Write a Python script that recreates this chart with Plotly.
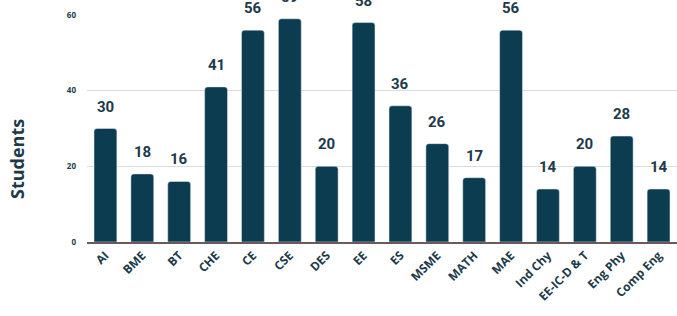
import plotly.graph_objects as go

categories = ["AI", "BME", "BT", "CHE", "CE", "CSE", "DES", "EE", "ES", "MSME",
              "MATH", "MAE", "Ind Chy", "EE-IC-D & T", "Eng Phy", "Comp Eng"]
students = [30, 18, 16, 41, 56, 59, 20, 58, 36, 26, 17, 56, 14, 20, 28, 14]
y_ticks = [0, 20, 40, 60]

bar_color = "#0c3c50"
text_color = "#1c3a4a"

fig = go.Figure()
fig.add_trace(go.Bar(
    x=categories, y=students,
    marker=dict(color=bar_color, cornerradius=3),
    hoverinfo="x+y",
))

for c, v in zip(categories, students):
    fig.add_annotation(x=c, y=v, text=str(v), showarrow=False,
                       yanchor="bottom", yshift=11,
                       font=dict(family="Roboto", size=15, color=text_color, weight="bold"))

# y-axis title (centred on the full, uncropped chart height)
fig.add_annotation(text="Students", textangle=-90, showarrow=False,
                   xref="paper", yref="paper", x=-70 / 590, y=83 / 227,
                   xanchor="center", yanchor="middle",
                   font=dict(family="Open Sans", size=18, color=text_color, weight="bold"))

fig.update_layout(
    width=677, height=316,
    margin=dict(l=87, r=0, t=15, b=74),
    paper_bgcolor="white", plot_bgcolor="white",
    bargap=0.38,
    showlegend=False,
    font=dict(family="Open Sans", color=text_color),
)
fig.update_xaxes(
    tickangle=-45,
    tickfont=dict(family="Open Sans", size=12, color=text_color, weight="bold"),
    showgrid=False,
    showline=True, linecolor="#6b5a58", linewidth=1.5,
    ticks="",
)
fig.update_yaxes(
    range=[0, 60],
    tickvals=y_ticks,
    tickfont=dict(family="Open Sans", size=8, color=text_color, weight="bold"),
    showgrid=True, gridcolor="#dcdcdc", gridwidth=1,
    zeroline=False,
    ticks="", ticklabelstandoff=10,
)

fig.write_html("out.html", config={"displayModeBar": False},
               post_script="document.body.style.margin='0';")
